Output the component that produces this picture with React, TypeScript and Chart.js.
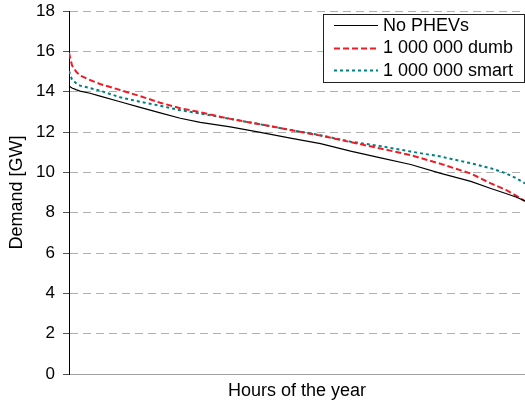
import React, { useEffect, useRef } from "react";
import { Chart, registerables } from "chart.js";

Chart.register(...registerables);

// Hours of the year (duration curve sorted from highest to lowest demand)
const hours = [0, 58, 135, 212, 404, 597, 982, 1367, 1752, 2137, 2522, 3099, 3677, 4254, 4832, 5409, 5987, 6564, 7142, 7719, 8104, 8393, 8586, 8760];

const noPhevs = [14.28, 14.18, 14.1, 14.03, 13.92, 13.78, 13.5, 13.22, 12.95, 12.68, 12.48, 12.25, 11.98, 11.7, 11.42, 11.05, 10.72, 10.39, 9.95, 9.55, 9.2, 8.95, 8.78, 8.58];
const dumb = [15.93, 15.3, 15.0, 14.8, 14.58, 14.38, 14.08, 13.78, 13.45, 13.18, 12.98, 12.65, 12.38, 12.1, 11.82, 11.5, 11.18, 10.85, 10.42, 9.94, 9.45, 9.13, 8.85, 8.57];
const smart = [15.02, 14.6, 14.42, 14.3, 14.18, 14.05, 13.72, 13.5, 13.3, 13.08, 12.92, 12.65, 12.38, 12.1, 11.84, 11.52, 11.3, 11.03, 10.78, 10.45, 10.2, 9.95, 9.72, 9.45];

const seriesLabels = ["No PHEVs", "1 000 000 dumb", "1 000 000 smart"];
const yTicks = [0, 2, 4, 6, 8, 10, 12, 14, 16, 18];
const xTitle = "Hours of the year";
const yTitle = "Demand [GW]";

const FONT = "'Liberation Sans', Arial, sans-serif";

const boxLegend = {
  id: "boxLegend",
  afterDatasetsDraw(chart: any) {
    const { ctx, chartArea } = chart;
    const right = chartArea.right - 1;
    const w = 201;
    const left = right - w;
    const top = chartArea.top + 3;
    const h = 68;
    ctx.save();
    ctx.fillStyle = "#ffffff";
    ctx.fillRect(left, top, w, h);
    ctx.strokeStyle = "#222";
    ctx.lineWidth = 1;
    ctx.setLineDash([]);
    ctx.strokeRect(Math.round(left) + 0.5, Math.round(top) + 0.5, w, h);
    const rowH = 22.5;
    chart.data.datasets.forEach((ds: any, i: number) => {
      const y = top + 11 + i * rowH;
      ctx.beginPath();
      ctx.strokeStyle = ds.borderColor;
      ctx.lineWidth = ds.borderWidth;
      ctx.setLineDash(ds.borderDash || []);
      ctx.moveTo(left + 11, Math.round(y) + 0.5);
      ctx.lineTo(left + 55, Math.round(y) + 0.5);
      ctx.stroke();
      ctx.setLineDash([]);
      ctx.fillStyle = "#000";
      ctx.font = `18px ${FONT}`;
      ctx.textBaseline = "middle";
      ctx.textAlign = "left";
      ctx.fillText(ds.label, left + 60, y + 1);
    });
    ctx.restore();
  },
};

export default function App() {
  const ref = useRef<HTMLCanvasElement | null>(null);

  useEffect(() => {
    if (!ref.current) return;
    const mk = (vals: number[]) => hours.map((h, i) => ({ x: h, y: vals[i] }));
    const chart = new Chart(ref.current, {
      type: "line",
      data: {
        datasets: [
          {
            label: seriesLabels[0],
            data: mk(noPhevs),
            borderColor: "#000000",
            borderWidth: 1.2,
            borderDash: [],
            pointRadius: 0,
            tension: 0,
          },
          {
            label: seriesLabels[1],
            data: mk(dumb),
            borderColor: "#ee1c25",
            borderWidth: 2,
            borderDash: [6, 3],
            pointRadius: 0,
            tension: 0,
          },
          {
            label: seriesLabels[2],
            data: mk(smart),
            borderColor: "#008080",
            borderWidth: 2,
            borderDash: [3, 3],
            pointRadius: 0,
            tension: 0,
          },
        ],
      },
      options: {
        responsive: false,
        animation: false,
        layout: { padding: { top: 11, right: 0, left: 0, bottom: 0 } },
        plugins: {
          legend: { display: false },
          tooltip: { enabled: false },
        },
        scales: {
          x: {
            type: "linear",
            min: 0,
            max: 8760,
            ticks: { display: false },
            grid: { display: false, drawTicks: false },
            border: { display: true, color: "#a0a0a0", width: 1 },
            title: {
              display: true,
              text: xTitle,
              color: "#000",
              font: { family: FONT, size: 18 },
              padding: { top: 0, bottom: 4.5 },
            },
            afterFit: (s: any) => {
              s.height = 32;
              s.paddingLeft = 0;
              s.paddingRight = 0;
            },
          },
          y: {
            min: 0,
            max: 18,
            afterBuildTicks: (s: any) => {
              s.ticks = yTicks.map((v) => ({ value: v }));
            },
            ticks: {
              color: "#000",
              font: { family: FONT, size: 17 },
              padding: 8,
            },
            grid: {
              color: (c: any) => (c.tick && c.tick.value === 0 ? "rgba(0,0,0,0)" : "#b0b0b0"),
              lineWidth: 1,
              tickLength: 6,
              tickColor: "#555",
              drawTicks: true,
            },
            border: { display: true, color: "#000", width: 1, dash: [8, 5] },
            title: {
              display: true,
              text: yTitle,
              color: "#000",
              font: { family: FONT, size: 18 },
              padding: { top: 6, bottom: 0 },
            },
            afterFit: (s: any) => {
              s.width = 69;
              s.paddingTop = 0;
              s.paddingBottom = 0;
            },
          },
        },
      },
      plugins: [boxLegend],
    });
    return () => chart.destroy();
  }, []);

  return (
    <div style={{ position: "fixed", left: 0, top: 0, width: 525, height: 406, background: "#fff" }}>
      <canvas ref={ref} width={525} height={406} />
    </div>
  );
}
